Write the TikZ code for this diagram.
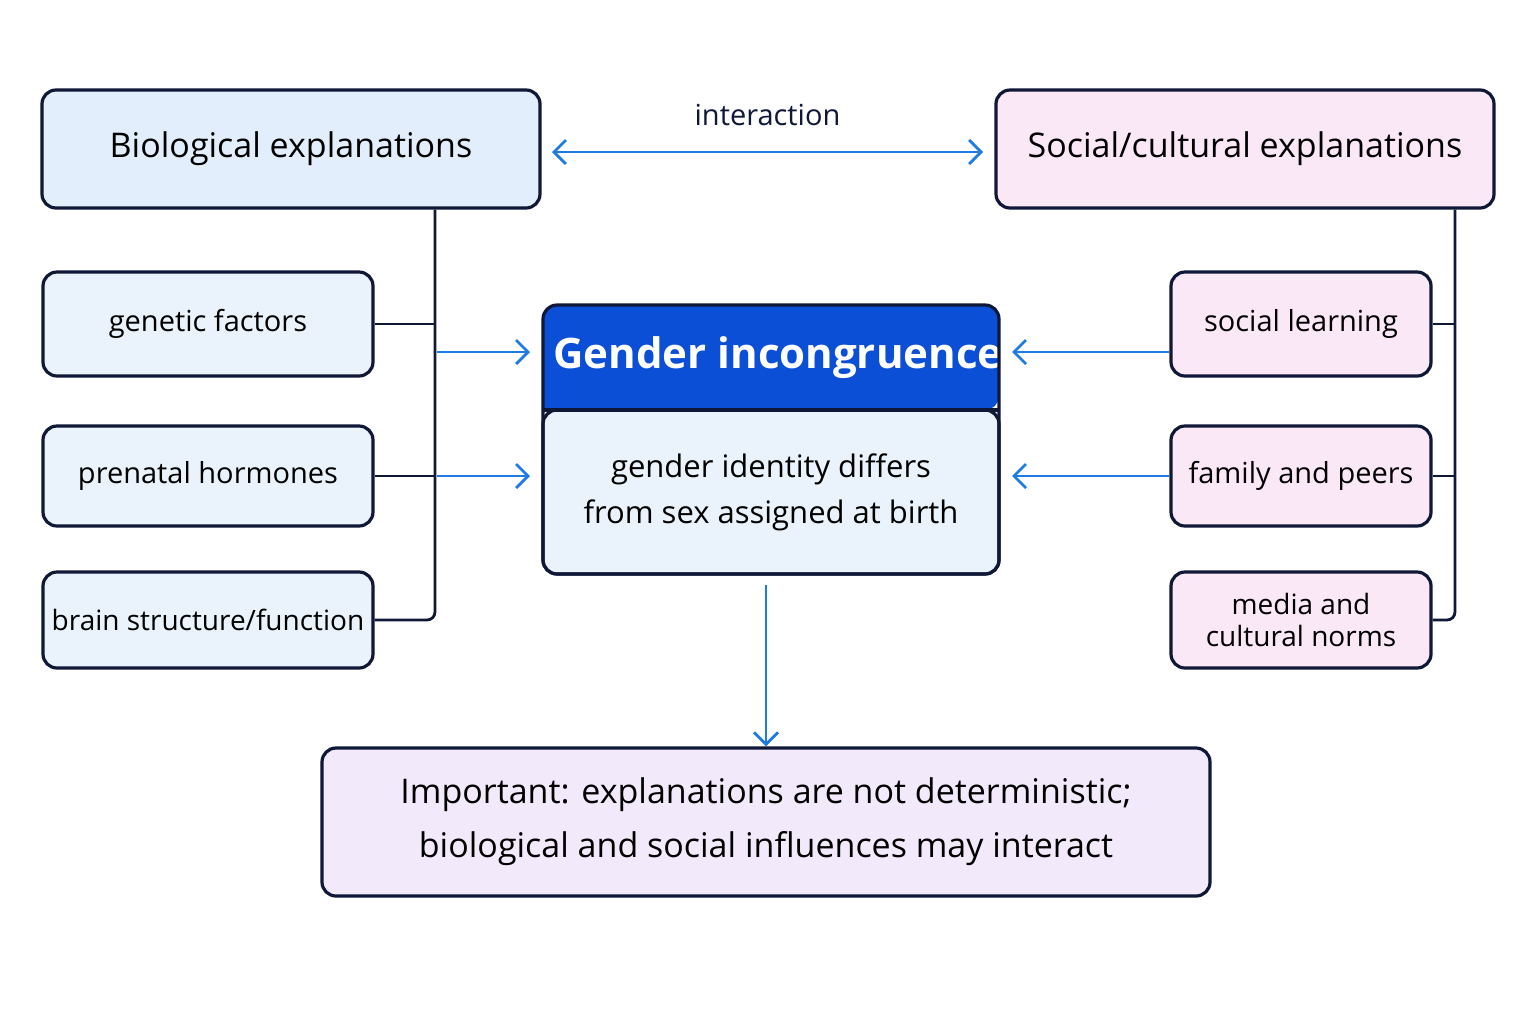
\documentclass[tikz,border=0pt]{standalone}
\usepackage{fontspec}
\setmainfont{Open Sans}
\usetikzlibrary{positioning,arrows.meta}
\definecolor{navy}{HTML}{101838}
\definecolor{arrowblue}{HTML}{1E7BE6}
\definecolor{biofill}{HTML}{E2EEFB}
\definecolor{subbio}{HTML}{EAF2FC}
\definecolor{socfill}{HTML}{FBE8F7}
\definecolor{hdrblue}{HTML}{0A4FD6}
\definecolor{notefill}{HTML}{F2EAFB}
\tikzset{
  box/.style={draw=navy, line width=1.6pt, rounded corners=7pt, align=center, inner sep=0pt},
  bigbox/.style={box, minimum width=249pt, minimum height=59pt, font=\fontsize{17}{20}\selectfont},
  bio/.style={box, fill=subbio, minimum width=165pt, font=\fontsize{14.5}{18}\selectfont},
  soc/.style={box, fill=socfill, minimum width=130pt, font=\fontsize{14.5}{18}\selectfont},
  link/.style={navy, line width=1.4pt},
  flow/.style={arrowblue, line width=1.4pt, -{Straight Barb[length=6pt,width=12pt]}}
}
\begin{document}
\begin{tikzpicture}[x=0.5pt,y=-0.5pt]
  \useasboundingbox[fill=white] (0,0) rectangle (1536,1024);
  % top boxes
  \node[bigbox, fill=biofill] (bio) at (291,149) {Biological explanations};
  \node[bigbox, fill=socfill] (soc) at (1245,149) {Social/cultural explanations};
  \coordinate (ia) at (552,152);
  \coordinate (ib) at (983,152);
  \draw[flow, {Straight Barb[length=6pt,width=12pt]}-{Straight Barb[length=6pt,width=12pt]}] (ia) -- node[above=9pt, font=\fontsize{14.5}{18}\selectfont, text=navy] {interaction} (ib);
  % biological factors
  \node[bio, minimum height=52pt] (gen) at (208,324) {genetic factors};
  \node[bio, minimum height=50pt] (pre) at (208,476) {prenatal hormones};
  \node[bio, minimum height=48pt, font=\fontsize{14}{17}\selectfont] (brain) at (208,620) {brain structure/function};
  % social factors
  \node[soc, minimum height=52pt] (sl) at (1301,324) {social learning};
  \node[soc, minimum height=50pt] (fam) at (1301,476) {family and peers};
  \node[soc, minimum height=48pt, font=\fontsize{14}{16}\selectfont] (med) at (1301,620) {media and\\cultural norms};
  % central box
  \node[box, fill=subbio, minimum width=228pt, minimum height=82pt, font=\fontsize{15.5}{23}\selectfont] (gbody) at (771,492) {gender identity differs\\from sex assigned at birth};
  \fill[hdrblue, rounded corners=7pt] (543,410) -- (543,305) -- (999,305) -- (999,410) [sharp corners] -- cycle;
  \node[text=white, font=\fontsize{21}{24}\selectfont\bfseries] (hdr) at (778,358) {Gender incongruence};
  \draw[box, fill=none] (543,305) rectangle (999,574);
  \draw[navy, line width=1.6pt] (543,410) -- (999,410);
  % buses
  \draw[link, rounded corners=4pt] (bio.south -| 435,0) -- (435,620) -- (brain.east);
  \draw[link] (gen.east) -- (435,324);
  \draw[link] (pre.east) -- (435,476);
  \draw[link, rounded corners=4pt] (soc.south -| 1455,0) -- (1455,620) -- (med.east);
  \draw[link] (sl.east) -- (1455,324);
  \draw[link] (fam.east) -- (1455,476);
  \draw[flow] (437,352) -- (530,352);
  \draw[flow] (437,476) -- (530,476);
  \draw[flow] (sl.west |- 0,352) -- (1012,352);
  \draw[flow] (fam.west) -- (1012,476);
  % note
  \node[box, fill=notefill, minimum width=444pt, minimum height=74pt, font=\fontsize{17}{27}\selectfont] (note) at (766,822) {Important: explanations are not deterministic;\\biological and social influences may interact};
  \draw[flow] (766,585) -- (note.north);
\end{tikzpicture}
\end{document}
